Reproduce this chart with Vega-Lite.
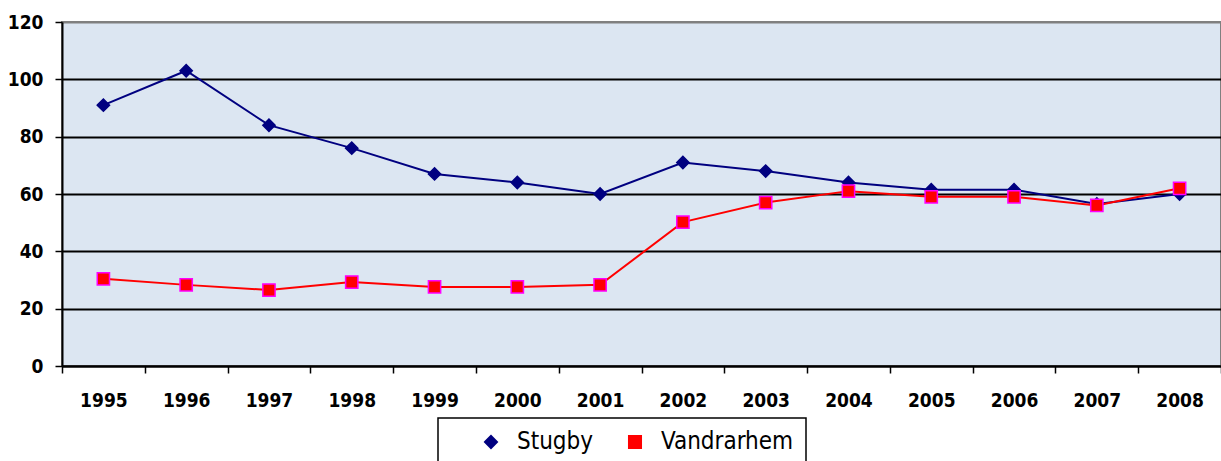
{
  "$schema": "https://vega.github.io/schema/vega-lite/v6.json",
  "width": 1159,
  "height": 344,
  "autosize": "none",
  "padding": {"left": 62, "top": 22, "right": 0, "bottom": 95},
  "background": "white",
  "config": {
    "view": {"fill": "#dce6f2", "stroke": "#808080", "strokeWidth": 2},
    "font": "'DejaVu Sans Condensed', 'Liberation Sans', sans-serif",
    "legend": {
      "orient": "none",
      "direction": "horizontal",
      "legendX": 376,
      "legendY": 396,
      "strokeColor": "black",
      "strokeWidth": 1.5,
      "padding": 12,
      "symbolSize": 150,
      "symbolStrokeWidth": 1.8,
      "symbolOffset": 29,
      "labelOffset": 14,
      "columnPadding": 0,
      "labelFontSize": 24,
      "labelColor": "black",
      "labelLimit": 300,
      "title": null
    }
  },
  "data": {
    "values": [
      {"year": "1995", "series": "Stugby", "value": 91},
      {"year": "1996", "series": "Stugby", "value": 103},
      {"year": "1997", "series": "Stugby", "value": 84},
      {"year": "1998", "series": "Stugby", "value": 76},
      {"year": "1999", "series": "Stugby", "value": 67},
      {"year": "2000", "series": "Stugby", "value": 64},
      {"year": "2001", "series": "Stugby", "value": 60},
      {"year": "2002", "series": "Stugby", "value": 71},
      {"year": "2003", "series": "Stugby", "value": 68},
      {"year": "2004", "series": "Stugby", "value": 64},
      {"year": "2005", "series": "Stugby", "value": 61.5},
      {"year": "2006", "series": "Stugby", "value": 61.5},
      {"year": "2007", "series": "Stugby", "value": 56.5},
      {"year": "2008", "series": "Stugby", "value": 60},
      {"year": "1995", "series": "Vandrarhem", "value": 30.4},
      {"year": "1996", "series": "Vandrarhem", "value": 28.3},
      {"year": "1997", "series": "Vandrarhem", "value": 26.5},
      {"year": "1998", "series": "Vandrarhem", "value": 29.3},
      {"year": "1999", "series": "Vandrarhem", "value": 27.6},
      {"year": "2000", "series": "Vandrarhem", "value": 27.6},
      {"year": "2001", "series": "Vandrarhem", "value": 28.3},
      {"year": "2002", "series": "Vandrarhem", "value": 50.2},
      {"year": "2003", "series": "Vandrarhem", "value": 57},
      {"year": "2004", "series": "Vandrarhem", "value": 61},
      {"year": "2005", "series": "Vandrarhem", "value": 59},
      {"year": "2006", "series": "Vandrarhem", "value": 59},
      {"year": "2007", "series": "Vandrarhem", "value": 56},
      {"year": "2008", "series": "Vandrarhem", "value": 62}
    ]
  },
  "encoding": {
    "x": {
      "field": "year",
      "type": "ordinal",
      "scale": {"type": "band", "paddingInner": 0, "paddingOuter": 0},
      "axis": {
        "title": null,
        "tickBand": "extent",
        "labelAngle": 0,
        "labelFontSize": 19,
        "labelFontWeight": "bold",
        "labelColor": "black",
        "domainColor": "black",
        "domainWidth": 2,
        "tickColor": "black",
        "tickWidth": 1.5,
        "tickSize": 7,
        "labelPadding": 18,
        "grid": false
      }
    },
    "y": {
      "field": "value",
      "type": "quantitative",
      "scale": {"domain": [0, 120], "nice": false},
      "axis": {
        "title": null,
        "values": [0, 20, 40, 60, 80, 100, 120],
        "labelFontSize": 19,
        "labelFontWeight": "bold",
        "labelColor": "black",
        "domainColor": "black",
        "domainWidth": 2,
        "tickColor": "black",
        "tickWidth": 1.5,
        "tickSize": 7,
        "labelPadding": 12,
        "grid": true,
        "gridWidth": 2,
        "gridColor": {"condition": {"test": "datum.value === 120", "value": "#808080"}, "value": "black"}
      }
    }
  },
  "layer": [
    {
      "mark": {"type": "line", "strokeWidth": 2},
      "encoding": {
        "color": {
          "field": "series",
          "type": "nominal",
          "scale": {"domain": ["Stugby", "Vandrarhem"], "range": ["#000080", "#ff0000"]}
        }
      }
    },
    {
      "mark": {"type": "point", "filled": true, "opacity": 1, "strokeWidth": 1.5},
      "encoding": {
        "shape": {
          "field": "series",
          "type": "nominal",
          "scale": {"domain": ["Stugby", "Vandrarhem"], "range": ["diamond", "square"]}
        },
        "fill": {
          "field": "series",
          "type": "nominal",
          "scale": {"domain": ["Stugby", "Vandrarhem"], "range": ["#000080", "#ff0000"]}
        },
        "stroke": {
          "field": "series",
          "type": "nominal",
          "scale": {"domain": ["Stugby", "Vandrarhem"], "range": ["#000080", "#ff00ff"]}
        },
        "size": {"value": 150}
      }
    }
  ]
}
